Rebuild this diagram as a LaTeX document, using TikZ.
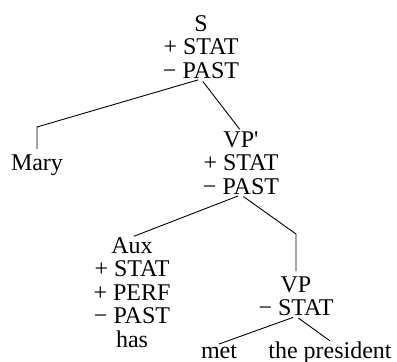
\documentclass[tikz,border=0pt]{standalone}
\usepackage{fontspec}
\setmainfont{Liberation Serif}
\usepackage{tikz}

\begin{document}
\begin{tikzpicture}[x=1pt,y=-1pt,draw=black,line width=0.9pt]
    \tikzstyle{cat}=[align=center,inner sep=0pt,anchor=north,font=\fontsize{24}{23.5}\selectfont]
    \tikzstyle{word}=[cat,anchor=base]
    \tikzstyle{branch}=[shorten <=3pt,shorten >=2pt]

    \useasboundingbox (0,0) rectangle (397,362);

    % Draw the category nodes
    \node[cat] (S) at (201,15) {S\\+ STAT\\− PAST};
    \node[cat] (VPbar) at (241,131) {VP\textquotesingle\\+ STAT\\− PAST};
    \node[cat] (Aux) at (132,237) {Aux\\+ STAT\\+ PERF\\− PAST\\has};
    \node[cat] (VP) at (296,276) {VP\\− STAT};

    % Draw the words
    \node[word] (Mary) at (37,170) {Mary};
    \node[word] (met) at (219,358) {met};
    \node[word] (pres) at (330,358) {the president};

    % Bends of the two crooked branches
    \coordinate (bend-Mary) at (37,127);
    \coordinate (bend-VP) at (296,234);

    % Connect every mother with its daughters
    \draw[branch,shorten >=5pt] (S.south) -- (bend-Mary) -- (Mary.north);
    \draw[branch] (S.south) -- (VPbar.north);
    \draw[branch] (VPbar.south) -- (Aux.north);
    \draw[branch,shorten >=5pt] (VPbar.south) -- (bend-VP) -- (VP.north);
    \foreach \dest in {met,pres}
        \draw[branch,shorten >=0pt] (VP.south) -- (\dest.north);

\end{tikzpicture}
\end{document}
